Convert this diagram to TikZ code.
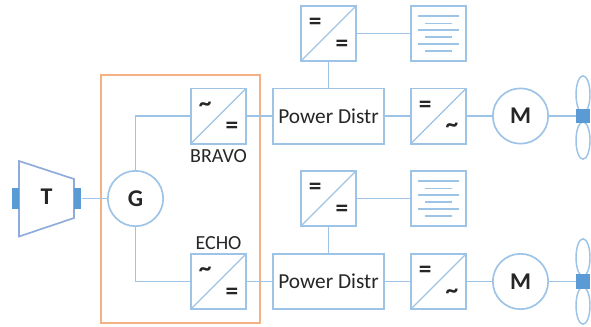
\documentclass[tikz,border=0pt]{standalone}
\usepackage{fontspec}
\setmainfont{Carlito}
\usetikzlibrary{shapes.geometric}
\definecolor{linkblue}{HTML}{9DC3E6}
\definecolor{turbblue}{HTML}{8FAADC}
\definecolor{fillblue}{HTML}{5B9BD5}
\definecolor{boxorange}{HTML}{F4B183}
\tikzset{
	unit/.style={draw=linkblue, line width=1.25pt, minimum width=41.5pt, minimum height=41.5pt, inner sep=0pt},
	conv/.style={unit, path picture={\draw[linkblue, line width=1pt] (path picture bounding box.south west) -- (path picture bounding box.north east);}},
	distr/.style={unit, minimum width=83pt, font=\fontsize{16}{18}\selectfont, text=black!85},
	machine/.style={circle, draw=linkblue, line width=1.25pt, minimum size=41.5pt, inner sep=0pt, font=\fontsize{18}{20}\selectfont\bfseries, text=black!85},
	link/.style={draw=linkblue, line width=1.25pt},
	shaft/.style={fill=fillblue, minimum width=5.5pt, minimum height=15.75pt, inner sep=0pt},
	blade/.style={ellipse, draw=linkblue, line width=1.1pt, minimum width=10.5pt, minimum height=28pt, inner sep=0pt},
	hub/.style={fill=fillblue, minimum width=10.5pt, minimum height=11pt, inner sep=0pt},
	sym/.style={font=\fontsize{19}{19}\selectfont\bfseries, text=black!85, inner sep=0pt},
	tag/.style={font=\fontsize{15}{17}\selectfont, text=black!85, inner sep=0pt},
	row/.style={draw=linkblue, line width=1.1pt}
}
\begin{document}
\begin{tikzpicture}[x=0.75pt, y=-0.75pt]
	\useasboundingbox (0,0) rectangle (591,326);

	% Define the nodes
	\node[draw=boxorange, line width=1.3pt, minimum width=119pt, minimum height=186pt, inner sep=0pt] (gen_box) at (180.5,199) {};
	\node[conv] (conv_bravo) at (218.5,116) {};
	\node[conv] (conv_echo) at (218.5,281.5) {};
	\node[machine] (gen) at (135.5,198.5) {G};
	\node[distr] (distr_top) at (328.5,116) {Power Distr};
	\node[distr] (distr_bot) at (328.5,281.5) {Power Distr};
	\node[conv] (dcdc_top) at (328.5,33.5) {};
	\node[conv] (dcdc_bot) at (328.5,198.5) {};
	\node[unit] (load_top) at (438.5,33.5) {};
	\node[unit] (load_bot) at (438.5,198.5) {};
	\node[conv] (drive_top) at (438.5,116) {};
	\node[conv] (drive_bot) at (438.5,281.5) {};
	\node[machine] (motor_top) at (520.5,116) {M};
	\node[machine] (motor_bot) at (520.5,281.5) {M};

	% Turbine
	\draw[draw=turbblue, line width=1.25pt] (19,161) -- (74,179) -- (74,218) -- (19,236.5) -- cycle;
	\node[font=\fontsize{18}{20}\selectfont\bfseries, text=black!85, inner sep=0pt] (turb) at (46.5,197) {T};
	\node[shaft] (shaft_in) at (15.2,198.5) {};
	\node[shaft] (shaft_out) at (77.7,198.5) {};

	% Propellers
	\node[blade] (blade_top_a) at (583,94.5) {};
	\node[blade] (blade_top_b) at (583,140.5) {};
	\node[blade] (blade_bot_a) at (583,257.5) {};
	\node[blade] (blade_bot_b) at (583,305.5) {};
	\node[hub] (hub_top) at (583,116) {};
	\node[hub] (hub_bot) at (583,281.5) {};

	% Define the edges
	\draw[link] (shaft_out) -- (gen);
	\draw[link] (gen.north) |- (conv_bravo.west);
	\draw[link] (gen.south) |- (conv_echo.west);
	\draw[link] (conv_bravo) -- (distr_top);
	\draw[link] (conv_echo) -- (distr_bot);
	\draw[link] (distr_top) -- (dcdc_top);
	\draw[link] (distr_bot) -- (dcdc_bot);
	\draw[link] (dcdc_top) -- (load_top);
	\draw[link] (dcdc_bot) -- (load_bot);
	\draw[link] (distr_top) -- (drive_top);
	\draw[link] (distr_bot) -- (drive_bot);
	\draw[link] (drive_top) -- (motor_top);
	\draw[link] (drive_bot) -- (motor_bot);
	\draw[link] (motor_top) -- (hub_top);
	\draw[link] (motor_bot) -- (hub_bot);

	% Add labels for converters
	\node[tag] (tag_bravo) at (218.5,156) {BRAVO};
	\node[tag] (tag_echo) at (218.5,243.5) {ECHO};
	\foreach \name/\hi/\lo in {conv_bravo/\textasciitilde/=, conv_echo/\textasciitilde/=, dcdc_top/=/=, dcdc_bot/=/=, drive_top/=/\textasciitilde, drive_bot/=/\textasciitilde} {
		\node[sym] (\name_hi) at ([xshift=-10pt,yshift=7pt]\name.center) {\hi};
		\node[sym] (\name_lo) at ([xshift=10pt,yshift=-9pt]\name.center) {\lo};
	}

	% Add rows of the load boxes
	\foreach \name in {load_top, load_bot} {
		\foreach \dy/\hw in {13/15.5, 7.5/10, 2.5/15.5, -2.5/10, -8/15.5, -13/10} {
			\draw[row] ([xshift=-\hw pt,yshift=\dy pt]\name.center) -- ([xshift=\hw pt,yshift=\dy pt]\name.center);
		}
	}

\end{tikzpicture}
\end{document}
